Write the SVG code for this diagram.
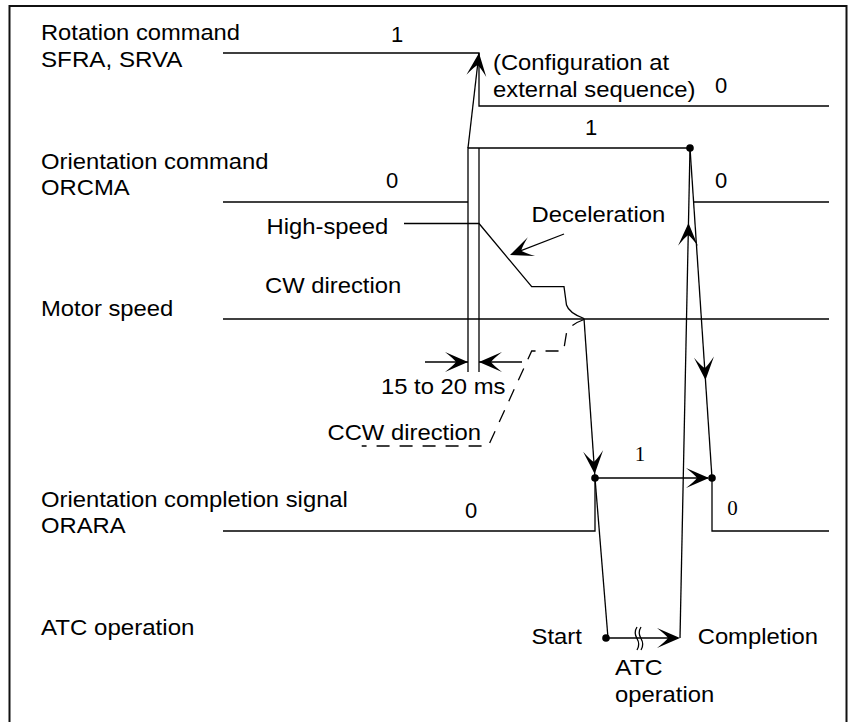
<svg xmlns="http://www.w3.org/2000/svg" xmlns:xlink="http://www.w3.org/1999/xlink" width="848" height="722" viewBox="0 0 848 722">
<style>
.t{font-family:"Liberation Sans",Arial,sans-serif;font-size:22px;fill:#000}
.s{font-family:"Liberation Serif","Times New Roman",serif;font-size:21px;fill:#000}
.m{text-anchor:middle}
.ln{fill:none;stroke:#000;stroke-width:1.3}
.d{fill:none;stroke:#000;stroke-width:1.3;stroke-dasharray:13 10}
.dot{fill:#000}
.ah{fill:#000;stroke:none}
</style>
<defs>
<path id="ah" class="ah" d="M0,0 L-23,-10 Q-14,-3 -12,0 Q-14,3 -23,10 Z"/>
</defs>
<rect x="9.5" y="6" width="837" height="730" fill="#fff" stroke="#111" stroke-width="2"/>

<g id="rotation-command">
<text class="t" x="41" y="39.5" textLength="199" lengthAdjust="spacingAndGlyphs">Rotation command</text>
<text class="t" x="41" y="66.5" textLength="141.5" lengthAdjust="spacingAndGlyphs">SFRA, SRVA</text>
<text class="t m" x="397" y="41.5">1</text>
<text class="t" x="493" y="70" textLength="176" lengthAdjust="spacingAndGlyphs">(Configuration at</text>
<text class="t" x="493" y="96.5" textLength="202.4" lengthAdjust="spacingAndGlyphs">external sequence)</text>
<text class="t m" x="721" y="92.5">0</text>
<polyline class="ln" points="223,53 479,53 479,106 829,106"/>
</g>

<g id="orientation-command">
<text class="t" x="41" y="168.5" textLength="227.5" lengthAdjust="spacingAndGlyphs">Orientation command</text>
<text class="t" x="41" y="194.5" textLength="88.6" lengthAdjust="spacingAndGlyphs">ORCMA</text>
<text class="t m" x="591" y="134.5">1</text>
<text class="t m" x="392" y="188">0</text>
<text class="t m" x="721" y="188">0</text>
<polyline class="ln" points="223,202 468,202"/>
<polyline class="ln" points="468,372 468,148 690,148"/>
<line class="ln" x1="479" y1="148" x2="479" y2="372"/>
<line class="ln" x1="694" y1="202" x2="829" y2="202"/>
<circle class="dot" cx="690" cy="148" r="3.8"/>
</g>

<g id="motor-speed">
<text class="t" x="41" y="315.5" textLength="132.3" lengthAdjust="spacingAndGlyphs">Motor speed</text>
<text class="t" x="266.6" y="234" textLength="121.7" lengthAdjust="spacingAndGlyphs">High-speed</text>
<text class="t" x="531.6" y="221.5" textLength="133.6" lengthAdjust="spacingAndGlyphs">Deceleration</text>
<text class="t" x="265" y="292.5" textLength="136.2" lengthAdjust="spacingAndGlyphs">CW direction</text>
<text class="t" x="327.5" y="439.5" textLength="153.4" lengthAdjust="spacingAndGlyphs">CCW direction</text>
<text class="t" x="381" y="394" textLength="124.4" lengthAdjust="spacingAndGlyphs">15 to 20 ms</text>
<line class="ln" x1="223" y1="319" x2="829" y2="319"/>
<path class="ln" d="M404,223.5 L479,223.5 L531.7,286.7 L564,286.7 L566.5,305 Q569,313 584,318.5"/>
<path class="d" d="M584,319.5 Q569,325 566.5,333 L563.5,351 L531.7,351 L488.3,446 L361.7,446"/>
</g>

<g id="orientation-completion">
<text class="t" x="41" y="506.5" textLength="306.9" lengthAdjust="spacingAndGlyphs">Orientation completion signal</text>
<text class="t" x="41" y="533" textLength="84.6" lengthAdjust="spacingAndGlyphs">ORARA</text>
<text class="t m" x="471" y="518">0</text>
<text class="s m" x="640" y="461">1</text>
<text class="s m" x="732.5" y="515">0</text>
<polyline class="ln" points="223,531 595,531 595,478"/>
<polyline class="ln" points="712,478 712,531 829,531"/>
<circle class="dot" cx="595" cy="478" r="3.8"/>
<circle class="dot" cx="712" cy="478" r="3.8"/>
</g>

<g id="atc-operation">
<text class="t" x="41" y="634.5" textLength="153.4" lengthAdjust="spacingAndGlyphs">ATC operation</text>
<text class="t" x="531.5" y="643.5" textLength="50.3" lengthAdjust="spacingAndGlyphs">Start</text>
<text class="t" x="697.7" y="643.5" textLength="120.4" lengthAdjust="spacingAndGlyphs">Completion</text>
<text class="t" x="615" y="675" textLength="47.6" lengthAdjust="spacingAndGlyphs">ATC</text>
<text class="t" x="615" y="701.7" textLength="99.2" lengthAdjust="spacingAndGlyphs">operation</text>
<circle class="dot" cx="606" cy="638" r="3.8"/>
<path class="ln" d="M637,627 q-3.5,5.5 0,11.5 q3.5,6 0,11.5 M641,627 q-3.5,5.5 0,11.5 q3.5,6 0,11.5"/>
</g>

<g id="connectors">
<line class="ln" x1="468" y1="148" x2="479" y2="53"/>
<use xlink:href="#ah" href="#ah" transform="translate(479,53) rotate(-83.4)"/>
<line class="ln" x1="425" y1="362" x2="468" y2="362"/>
<use xlink:href="#ah" href="#ah" transform="translate(468,362)"/>
<line class="ln" x1="479" y1="362" x2="522" y2="362"/>
<use xlink:href="#ah" href="#ah" transform="translate(479,362) rotate(180)"/>
<line class="ln" x1="564" y1="234" x2="512" y2="254.2"/>
<use xlink:href="#ah" href="#ah" transform="translate(510,255) rotate(158.7)"/>
<line class="ln" x1="584" y1="318.5" x2="595" y2="478"/>
<use xlink:href="#ah" href="#ah" transform="translate(594.7,474) rotate(86.05)"/>
<line class="ln" x1="595" y1="478" x2="608" y2="638"/>
<line class="ln" x1="595" y1="478" x2="708" y2="478"/>
<use xlink:href="#ah" href="#ah" transform="translate(709,478)"/>
<line class="ln" x1="606" y1="638" x2="678" y2="638"/>
<use xlink:href="#ah" href="#ah" transform="translate(680,638)"/>
<line class="ln" x1="680" y1="638" x2="690" y2="148"/>
<use xlink:href="#ah" href="#ah" transform="translate(688.5,223) rotate(-88.83)"/>
<line class="ln" x1="690" y1="148" x2="712" y2="478"/>
<use xlink:href="#ah" href="#ah" transform="translate(705.5,380) rotate(86.19)"/>
</g>
</svg>
